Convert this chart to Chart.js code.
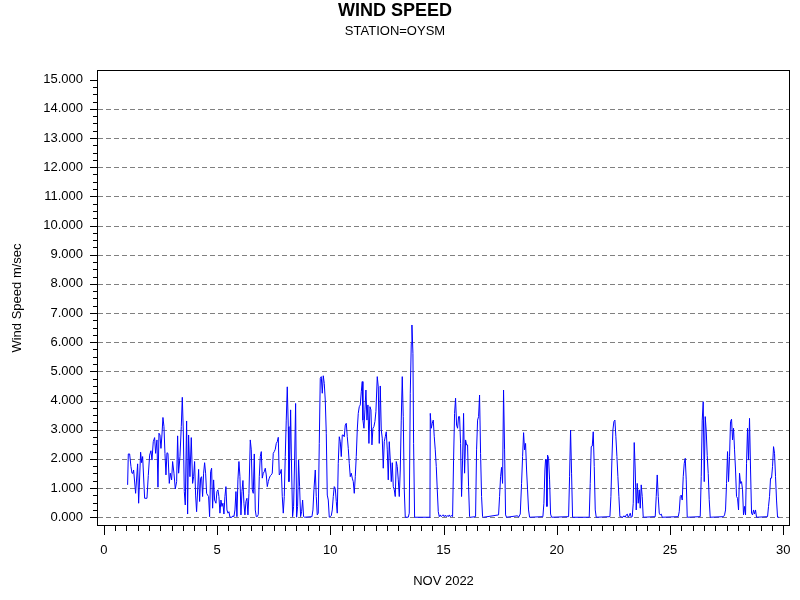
<!DOCTYPE html>
<html><head><meta charset="utf-8">
<script src="https://cdn.jsdelivr.net/npm/chart.js@4.4.0/dist/chart.umd.min.js"></script>
<style>html,body{margin:0;padding:0;background:#fff}canvas{display:block}</style>
</head><body>
<canvas id="c" width="800" height="600"></canvas>
<script>
const chartTitle = 'WIND SPEED';
const chartSubtitle = 'STATION=OYSM';
const xTitle = 'NOV 2022';
const yTitle = 'Wind Speed m/sec';
const xTickValues = [0, 5, 10, 15, 20, 25, 30];
const yTickValues = [0, 1, 2, 3, 4, 5, 6, 7, 8, 9, 10, 11, 12, 13, 14, 15];

// day of month (decimal) and wind speed (m/sec)
const dayOfMonth = [
 1.052,1.082,1.141,1.199,1.244,1.288,1.317,1.405,1.494,1.538,1.626,1.670,1.715,1.803,1.906,1.965,2.024,2.082,2.127,2.185,2.244,2.288,2.347,2.392,2.436,2.480,2.524,2.568,2.612,2.656,2.701,2.745,2.789,2.833,2.892,2.936,2.995,3.039,3.098,3.157,3.216,3.260,3.304,3.363,3.422,3.466,3.510,3.554,3.598,
 3.657,3.701,3.745,3.804,3.863,3.922,3.966,4.010,4.054,4.098,4.187,4.231,4.275,4.319,4.363,4.407,4.452,4.496,4.540,4.584,4.628,4.672,4.717,4.761,4.805,4.849,4.893,4.952,4.996,5.040,5.084,5.129,5.173,5.217,5.261,5.305,5.349,5.393,5.438,5.482,5.526,5.570,5.658,5.702,5.747,5.791,5.835,5.879,5.923,5.967,6.012,6.056,6.100,6.144,6.188,6.232,6.276,6.321,6.365,6.409,
 6.468,6.512,6.556,6.600,6.645,6.689,6.733,6.777,6.821,6.865,6.910,6.954,6.998,7.042,7.086,7.130,7.174,7.219,7.263,7.307,7.351,7.395,7.439,7.483,7.528,7.572,7.616,7.660,7.704,7.748,7.793,7.837,7.881,7.925,7.969,8.013,8.057,8.102,8.146,8.175,8.219,8.249,8.293,8.337,8.381,8.425,8.470,8.514,8.558,8.602,8.646,8.690,8.734,8.779,8.823,8.867,9.191,9.235,9.279,9.338,9.382,9.426,9.470,
 9.515,9.559,9.603,9.647,9.691,9.735,9.779,9.824,9.868,9.912,9.956,10.000,10.044,10.089,10.133,10.177,10.221,10.265,10.309,10.353,10.398,10.442,10.486,10.530,10.574,10.618,10.663,10.707,10.751,10.795,10.839,10.883,10.927,10.972,11.016,11.060,11.104,11.148,11.192,11.236,11.281,11.325,11.369,11.413,11.442,11.487,11.531,11.575,11.619,11.663,11.707,11.752,11.796,11.840,11.884,11.928,11.972,12.016,12.075,12.120,12.164,12.208,
 12.252,12.296,12.340,12.385,12.429,12.473,12.517,12.561,12.605,12.650,12.694,12.738,12.782,12.826,12.870,12.914,12.959,13.003,13.047,13.091,13.135,13.179,13.223,13.268,13.312,13.444,13.488,13.533,13.577,13.606,13.650,13.680,13.724,14.401,14.416,14.460,14.504,14.548,14.592,14.636,14.681,14.725,14.769,14.813,14.857,14.901,14.945,14.990,15.034,15.078,
 15.121,15.165,15.209,15.254,15.298,15.342,15.401,15.445,15.489,15.533,15.577,15.622,15.666,15.710,15.754,15.798,15.842,15.886,15.931,15.975,16.019,16.063,16.107,16.151,16.196,16.416,16.460,16.505,16.549,16.593,16.637,16.681,16.725,16.769,17.432,17.476,17.520,17.564,17.608,17.652,17.697,17.741,17.785,
 18.271,18.315,18.389,18.447,18.492,18.536,18.580,18.624,18.668,18.712,18.756,18.801,19.389,19.433,19.478,19.507,19.536,19.566,19.595,19.639,19.684,19.728,19.772,20.523,20.567,20.611,20.655,20.699,
 21.435,21.479,21.523,21.568,21.612,21.656,21.700,21.744,22.348,22.392,22.436,22.480,22.524,22.568,22.612,22.657,22.701,22.745,22.789,22.921,22.966,23.024,23.069,23.113,23.157,23.201,23.245,23.289,23.334,23.378,23.422,23.466,23.510,23.554,23.599,23.643,23.687,23.731,23.775,23.819,
 24.349,24.393,24.437,24.482,24.526,24.570,24.614,24.658,25.365,25.409,25.453,25.497,25.541,25.585,25.630,25.674,25.718,25.762,26.336,26.380,26.424,26.468,26.513,26.557,26.601,26.645,26.689,26.733,26.777,
 27.365,27.410,27.454,27.498,27.542,27.586,27.630,27.674,27.719,27.763,27.807,27.851,27.895,27.939,27.984,28.028,28.072,28.116,28.160,28.204,28.248,28.293,28.337,28.381,28.425,28.469,28.513,28.558,28.602,28.646,28.690,28.734,28.778,28.822,29.308,29.352,29.396,29.441,29.485,29.529,29.573,29.617,29.661,29.705,29.750,29.823
];
const windSpeed = [
 1.11,2.17,2.17,1.74,1.51,1.51,1.62,0.82,1.83,0.48,2.23,1.87,2.08,0.65,0.65,1.43,2.13,2.28,1.96,2.59,2.73,2.19,2.65,1.03,2.88,2.82,2.36,2.82,3.42,3.11,2.19,1.45,2.21,2.19,1.16,1.51,1.28,1.91,1.51,0.97,1.22,2.79,1.51,2.08,3.11,4.11,2.99,0.88,0.42,
 3.30,0.11,2.82,1.39,2.73,1.16,1.39,1.91,0.76,0.19,1.64,0.54,1.34,1.39,0.71,1.51,1.87,1.51,0.82,0.76,0.71,0.02,1.56,1.68,0.31,1.28,0.59,0.48,0.88,0.94,0.71,0.14,0.59,0.37,0.48,0.11,0.71,1.05,0.25,0.14,0.19,0,0,0.05,0.02,0.25,0.88,0.02,1.28,1.91,1.39,0.08,0.88,1.26,0.48,0.08,0.54,0.65,0.08,0.82,
 2.65,2.31,0.94,0.82,2.17,0.25,0.02,0.02,0.10,1.39,2.08,2.25,1.34,1.51,1.56,1.68,1.45,1.05,1.22,1.34,1.42,1.45,1.51,2.19,2.25,2.33,2.53,2.59,2.74,1.45,1.51,1.64,0.71,0.14,0.71,2.08,3.33,4.47,3.11,1.22,2.31,3.68,1.62,0.02,0.37,1.96,3.90,0,0.37,1.96,1.05,0.02,0.19,0.59,0.02,0,0.02,0.25,0.94,1.62,0.71,0.08,0.14,
 2.53,4.76,4.82,4.25,4.85,4.59,4.02,2.88,0.76,0.59,0,0.02,0.05,0.25,0.71,1.05,0.99,0.54,0.14,1.85,2.76,2.59,2.08,2.82,2.82,2.76,3.16,3.22,2.76,2.36,1.85,1.39,1.51,1.34,1.22,0.82,1.39,2.08,2.99,3.56,3.79,3.85,4.30,4.65,3.33,3.05,3.68,4.36,3.33,3.85,2.53,3.79,3.68,2.48,3.05,3.11,3.28,3.62,4.82,4.47,2.53,4.50,
 2.99,2.71,1.68,2.59,2.76,2.93,2.31,1.28,2.59,1.96,1.22,1.87,1.05,0.94,0.71,1.91,1.74,1.28,0.71,1.62,3.33,4.82,3.45,0.94,0,0,0.14,4.25,5.96,6.59,5.62,2.53,0,0,3.56,3.05,3.22,3.33,2.76,2.31,1.74,0.94,0.19,0.02,0.08,0.02,0.06,0.08,0.02,0.07,
 0.02,0.06,0.02,0.08,0.02,0.06,0.02,1.96,3.56,4.08,3.16,3.05,3.45,3.45,2.53,0.71,1.96,3.56,1.51,2.65,2.48,2.48,1.05,0.02,0,0.02,2.31,3.33,3.45,4.19,2.19,0.71,0.02,0,0.08,0.71,1.39,1.71,1.16,4.36,2.31,0.08,0,
 0.05,0,0.11,1.16,2.08,2.90,2.31,2.53,1.62,0.94,0.25,0,0.02,0.48,1.62,1.99,1.96,0.37,2.13,2.02,1.28,0.11,0,0.02,1.39,2.99,1.51,0,
 0,1.16,2.42,2.44,2.93,1.74,0.25,0,0.02,0.71,1.96,2.99,3.28,3.33,2.76,2.08,1.39,0.71,0.02,0,0.05,0,0.08,0.11,0,0.05,0.14,0,0.02,0.48,2.56,1.62,0.25,1.16,0.48,0.94,0.31,1.11,0.71,0,
 0.02,0.71,1.45,0.71,0.14,0.08,0.11,0,0.02,0.19,0.71,0.76,0.59,1.39,1.85,2.02,1.28,0,0.02,1.39,3.33,3.96,1.22,3.45,2.95,2.12,1.50,0.60,0,
 0.02,0.08,0.25,1.16,2.25,1.22,2.08,3.28,3.36,2.65,3.05,2.31,1.62,0.71,0.65,0.25,1.51,1.16,1.22,0.94,0.08,0.37,0.08,1.85,3.05,1.96,3.39,1.62,0.14,0.08,0.25,0.11,0.25,0,0.02,0.37,0.71,1.34,1.34,1.74,2.42,2.19,1.39,0.59,0,0
];

const FONT = '"Liberation Sans", Arial, Helvetica, sans-serif';
const gridValues = yTickValues.filter(v => v < 15);

const axisDecor = {
  id: 'axisDecor',
  beforeDatasetsDraw(chart) {
    const {ctx, chartArea: a, scales: {y}} = chart;
    ctx.save();
    ctx.strokeStyle = '#808080';
    ctx.lineWidth = 1;
    ctx.setLineDash([5, 3]);
    for (const v of gridValues) {
      const py = Math.round(y.getPixelForValue(v)) + 0.5;
      ctx.beginPath(); ctx.moveTo(a.left + 1, py); ctx.lineTo(a.right - 1, py); ctx.stroke();
    }
    ctx.restore();
  },
  afterDatasetsDraw(chart) {
    const {ctx, chartArea: a, scales: {x, y}} = chart;
    ctx.save();
    ctx.strokeStyle = '#000';
    ctx.lineWidth = 1;
    ctx.setLineDash([]);
    ctx.strokeRect(a.left + 0.5, a.top + 0.5, a.right - a.left - 1, a.bottom - a.top - 1);
    ctx.beginPath();
    for (let i = 0; i <= 60; i++) {
      const v = i * 0.25;
      const py = Math.round(y.getPixelForValue(v)) + 0.5;
      const len = (i % 4 === 0) ? 7 : 4;
      ctx.moveTo(a.left, py); ctx.lineTo(a.left - len, py);
    }
    for (let i = 0; i <= 60; i++) {
      const v = i * 0.5;
      const px = Math.round(x.getPixelForValue(v)) + 0.5;
      const len = (i % 10 === 0) ? 9 : 5;
      ctx.moveTo(px, a.bottom); ctx.lineTo(px, a.bottom + len);
    }
    ctx.stroke();
    ctx.restore();
  }
};

new Chart(document.getElementById('c'), {
  type: 'line',
  data: {
    datasets: [{
      data: dayOfMonth.map((d, i) => ({x: d, y: windSpeed[i]})),
      borderColor: '#0000ff',
      borderWidth: 1,
      pointRadius: 0,
      tension: 0,
      fill: false
    }]
  },
  options: {
    responsive: false,
    animation: false,
    devicePixelRatio: 1,
    parsing: false,
    normalized: true,
    layout: {padding: {left: 0, right: 10, top: 0, bottom: 0}},
    plugins: {
      legend: {display: false},
      tooltip: {enabled: false},
      title: {display: true, text: chartTitle, color: '#000',
        font: {family: FONT, size: 18, weight: 'bold'}, padding: {top: 0, bottom: 0}},
      subtitle: {display: true, text: chartSubtitle, color: '#000',
        font: {family: FONT, size: 13}, padding: {top: 1.6, bottom: 31.2}}
    },
    scales: {
      x: {
        type: 'linear', min: -0.3, max: 30.3,
        afterBuildTicks: s => { s.ticks = xTickValues.map(v => ({value: v})); },
        afterFit: s => { s.height = 74; s.paddingLeft = 0; s.paddingRight = 0; },
        grid: {display: false, drawTicks: false},
        border: {display: false},
        ticks: {padding: 17, color: '#000', font: {family: FONT, size: 13},
          maxRotation: 0, autoSkip: false, callback: v => String(v)},
        title: {display: true, text: xTitle, color: '#000',
          font: {family: FONT, size: 13}, padding: {top: 0, bottom: 11}}
      },
      y: {
        type: 'linear', min: -0.3, max: 15.33,
        afterBuildTicks: s => { s.ticks = yTickValues.map(v => ({value: v})); },
        afterFit: s => { s.width = 97; s.paddingTop = 0; s.paddingBottom = 0; },
        grid: {display: false, drawTicks: false},
        border: {display: false},
        ticks: {padding: 14, color: '#000', font: {family: FONT, size: 13},
          autoSkip: false, callback: v => Number(v).toFixed(3)},
        title: {display: true, text: yTitle, color: '#000',
          font: {family: FONT, size: 13}, padding: {top: 10, bottom: 0}}
      }
    }
  },
  plugins: [axisDecor]
});
</script>
</body></html>
